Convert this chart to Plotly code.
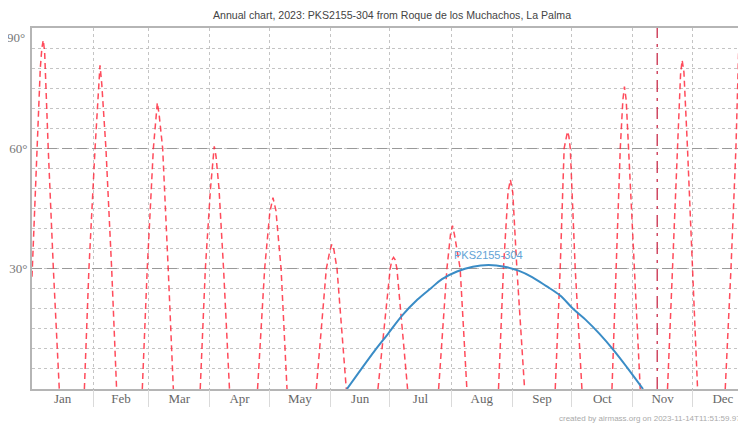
import plotly.graph_objects as go

# ---------------- data ----------------
months = ["Jan", "Feb", "Mar", "Apr", "May", "Jun", "Jul", "Aug", "Sep", "Oct", "Nov", "Dec"]
month_days = [31, 28, 31, 30, 31, 30, 31, 31, 30, 31, 30, 31]

# Moon altitude at local midnight (day of year since Jan 1, altitude in degrees)
moon_day = [0.0, 0.66, 2.3, 4.2, 5.0, 5.7, 6.4, 7.2, 8.2, 10.8, 13.8, None,
            26.5, 28.8, 31.9, 33.5, 34.4, 35.3, 37.4, 40.3, 42.8, None,
            55.8, 58.3, 61.4, 62.6, 63.4, 64.3, 66.1, 68.9, 71.5, None,
            85.1, 87.7, 90.3, 91.4, 92.2, 93.1, 94.6, 96.9, 99.9, None,
            114.1, 117.7, 120.3, 121.9, 123.4, 126.0, 129.0, None,
            143.8, 148.9, 150.7, 151.7, 152.7, 154.3, 159.0, None,
            175.0, 181.2, 182.1, 182.9, 183.7, 184.6, 190.0, None,
            205.7, 209.9, 211.7, 212.7, 213.7, 216.6, 220.0, None,
            236.0, 238.5, 240.8, 242.0, 243.2, 245.3, 249.2, None,
            264.7, 267.2, 269.2, 270.2, 270.9, 271.6, 272.3, 274.8, 278.2, None,
            293.4, 295.5, 297.6, 298.9, 299.7, 300.6, 301.8, 304.7, 307.7, None,
            321.5, 324.0, 326.6, 328.1, 328.9, 329.8, 331.6, 334.1, 336.7, None,
            350.7, 353.6, 356.1, 357.5, 358.3, 359.1, 361.3, 362.0]
moon_alt = [28, 36.4, 60, 80, 85, 87, 84, 75, 60, 30, 0, None,
            0, 30, 60, 75, 80.7, 76, 60, 30, 0, None,
            0, 30, 60, 68, 71.4, 68.5, 60, 30, 0, None,
            0, 30, 50, 57.5, 60.5, 58, 50, 30, 0, None,
            0, 30, 44, 47.7, 44.5, 30, 0, None,
            0, 30, 34.5, 36.1, 34.8, 30, 0, None,
            0, 30, 32.2, 32.8, 32.2, 30, 0, None,
            0, 30, 38.5, 40.7, 38.5, 30, 0, None,
            0, 30, 49, 52.2, 49, 30, 0, None,
            0, 30, 60, 63, 64.2, 63, 60, 30, 0, None,
            0, 30, 60, 72, 75.4, 72, 60, 30, 0, None,
            0, 30, 60, 78.5, 82, 79, 60, 30, 0, None,
            0, 30, 60, 84.5, 88.2, 85, 51.4, 45]

# PKS2155-304 altitude at local midnight
target_name = "PKS2155-304"
target_day = [159.3, 166, 173.6, 180, 187.2, 195, 202, 207.4, 215, 223, 231, 239,
              246.1, 253, 260, 267.2, 273.7, 280, 287, 294.2, 301, 309.1]
target_alt = [0, 4.6, 9.7, 13.7, 18.3, 22.3, 25.2, 27.4, 29.3, 30.5, 30.9, 30.5,
              29.5, 27.9, 25.7, 23.3, 20.0, 17.3, 13.8, 9.7, 5.4, 0]

today_day = 316.3          # date of chart creation marker
alt_ticks = [30, 60]
alt_labels = ["30°", "60°"]

# ---------------- derived ----------------
month_starts = []
acc = 0
for d in month_days:
    month_starts.append(acc)
    acc += d
month_mid = [s + d / 2 for s, d in zip(month_starts, month_days)]

fig = go.Figure()

fig.add_trace(go.Scatter(
    x=moon_day, y=moon_alt, mode="lines", connectgaps=False,
    line=dict(color="rgba(255,30,50,0.8)", width=1.5, dash="6px,4px"),
    hoverinfo="skip", showlegend=False))

fig.add_trace(go.Scatter(
    x=[today_day, today_day], y=[0, 90], mode="lines",
    line=dict(color="rgba(200,40,70,0.85)", width=1.5, dash="12px,6px,3px,6px"),
    hoverinfo="skip", showlegend=False))

fig.add_trace(go.Scatter(
    x=target_day, y=target_alt, mode="lines", line_shape="spline",
    line=dict(color="#3a8cc6", width=2),
    showlegend=False))

# invisible helper trace on the overlay axis (for month-boundary tick marks below the axis)
fig.add_trace(go.Scatter(x=[0], y=[0], xaxis="x2", mode="markers",
                         marker=dict(opacity=0), hoverinfo="skip", showlegend=False))

peak_i = target_alt.index(max(target_alt))
fig.add_annotation(x=target_day[peak_i], y=target_alt[peak_i], text=target_name,
                   showarrow=False, yanchor="bottom", yshift=2,
                   font=dict(family="Liberation Sans, Arial", size=11, color="#62a3d6"))

fig.add_annotation(xref="paper", x=0, xanchor="right", xshift=-5,
                   yref="y", y=90, yanchor="middle", yshift=-9, text="90°",
                   showarrow=False,
                   font=dict(family="Liberation Serif, Times New Roman", size=13, color="#777"))

fig.add_annotation(xref="paper", x=0.735, xanchor="left", yref="paper", y=0,
                   yanchor="middle", yshift=-29,
                   text="created by airmass.org on 2023-11-14T11:51:59.972Z",
                   showarrow=False,
                   font=dict(family="Liberation Sans, Arial", size=8, color="#aaa"))

# the page body adds an 8px offset, so margins are set to place the plot area
# at the reference's on-screen position
fig.update_layout(
    width=746, height=423,
    margin=dict(l=24, r=8, t=20, b=42, pad=0, autoexpand=False),
    paper_bgcolor="white", plot_bgcolor="white",
    title=dict(text="Annual chart, 2023: PKS2155-304 from Roque de los Muchachos, La Palma",
               x=384 / 746, xanchor="center", xref="container",
               y=1 - 7 / 423, yanchor="middle",
               font=dict(family="Liberation Sans, Arial", size=10.6, color="#444")),
    xaxis=dict(range=[0, 361.2], tickmode="array", tickvals=month_mid, ticktext=months,
               showgrid=False, zeroline=False, ticks="", automargin=False,
               ticklabelstandoff=-4,
               tickfont=dict(family="Liberation Serif, Times New Roman", size=13, color="#666"),
               showline=True, linecolor="#b5b5b5", linewidth=2, mirror=True,
               minor=dict(tickmode="array", tickvals=month_starts[1:], showgrid=True,
                          griddash="dot", gridcolor="#c4c4c4", gridwidth=1)),
    xaxis2=dict(overlaying="x", matches="x", side="bottom", anchor="y",
                tickmode="array", tickvals=month_starts[1:], showticklabels=False,
                ticks="outside", ticklen=17, tickcolor="#dadada", tickwidth=1,
                showgrid=False, zeroline=False, showline=False, automargin=False),
    yaxis=dict(range=[0, 90], tickmode="array", tickvals=alt_ticks, ticktext=alt_labels,
               showgrid=True, gridcolor="#999", gridwidth=1.2, griddash="10px,5px",
               zeroline=False, ticks="", automargin=False,
               tickfont=dict(family="Liberation Serif, Times New Roman", size=13, color="#777"),
               showline=True, linecolor="#b5b5b5", linewidth=2,
               minor=dict(dtick=5, tick0=0, showgrid=True, griddash="dot",
                          gridcolor="#c4c4c4", gridwidth=1)),
)

fig.write_html("out.html")
